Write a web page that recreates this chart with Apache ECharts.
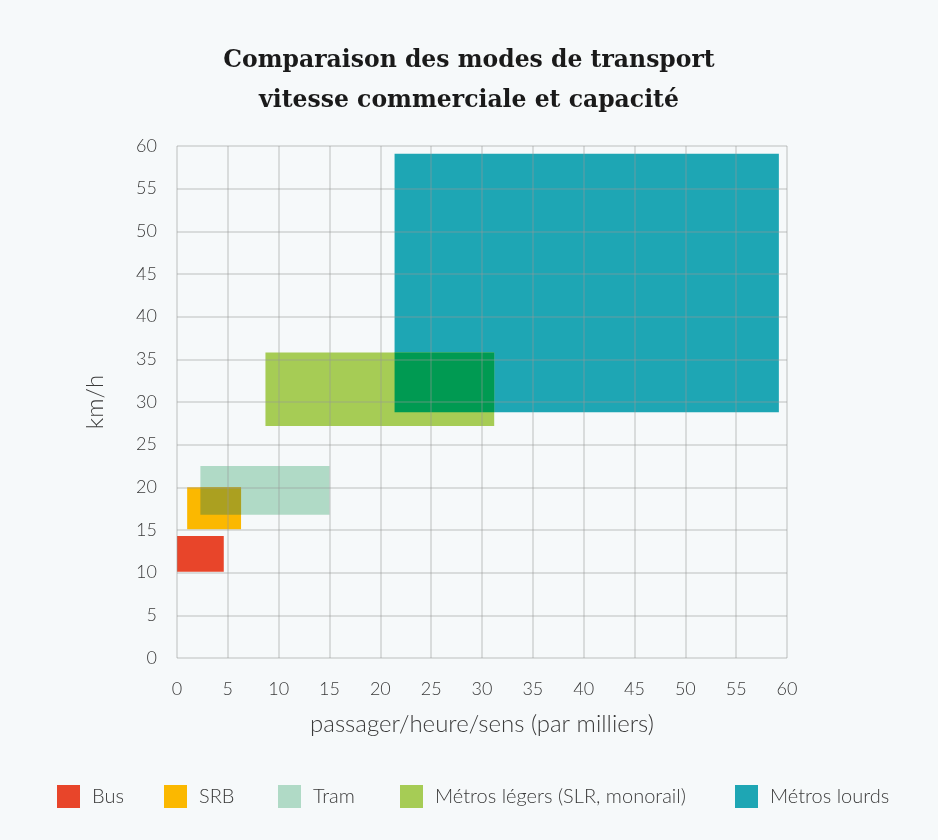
<!DOCTYPE html>
<html>
<head>
<meta charset="utf-8">
<title>Comparaison des modes de transport</title>
<script src="https://cdn.jsdelivr.net/npm/echarts@6/dist/echarts.min.js"></script>
<style>
  html, body { margin: 0; padding: 0; background: #f6f9fa; }
  #chart { width: 938px; height: 840px; }
</style>
</head>
<body>
<div id="chart"></div>
<script>
// Transport modes and their ranges: [capacity min, capacity max, speed min, speed max]
const modes = ['Bus', 'SRB', 'Tram', 'Métros légers (SLR, monorail)', 'Métros lourds'];
const capacityMin = [0, 1.0, 2.3, 8.7, 21.4];
const capacityMax = [4.6, 6.3, 15.0, 31.2, 59.2];
const speedMin = [10.1, 15.1, 16.8, 27.2, 28.8];
const speedMax = [14.3, 20.0, 22.5, 35.8, 59.1];
const colors = ['#e8452a', '#fbb800', '#b0dac6', '#a6cc55', '#1ea6b4'];

// Overlapping pairs get a darker shade where they intersect
const overlapPairs = [[1, 2], [3, 4]];
const overlapColors = ['#aba020', '#009a52'];

// Legend item positions
const legendLeft = [52, 159, 273, 395, 730];

// Draw order: back to front
const drawOrder = [4, 3, 2, 1, 0];

const textColor = '#3a3a3a';
const labelFont = 'Lato, "Open Sans", sans-serif';
const gridColor = 'rgba(150,150,150,0.4)';

function renderRect(params, api) {
  const p0 = api.coord([api.value(0), api.value(3)]);
  const p1 = api.coord([api.value(1), api.value(2)]);
  return {
    type: 'rect',
    shape: { x: p0[0], y: p0[1], width: p1[0] - p0[0], height: p1[1] - p0[1] },
    style: { fill: api.visual('color') }
  };
}

function intersect(a, b) {
  return [
    Math.max(capacityMin[a], capacityMin[b]),
    Math.min(capacityMax[a], capacityMax[b]),
    Math.max(speedMin[a], speedMin[b]),
    Math.min(speedMax[a], speedMax[b])
  ];
}

const series = drawOrder.map(i => ({
  type: 'custom',
  name: modes[i],
  renderItem: renderRect,
  itemStyle: { color: colors[i] },
  encode: { x: [0, 1], y: [2, 3] },
  data: [[capacityMin[i], capacityMax[i], speedMin[i], speedMax[i]]]
}));

overlapPairs.forEach((pair, k) => {
  series.push({
    type: 'custom',
    name: 'overlap-' + k,
    renderItem: renderRect,
    itemStyle: { color: overlapColors[k] },
    encode: { x: [0, 1], y: [2, 3] },
    data: [intersect(pair[0], pair[1])],
    z: 3
  });
});

const legends = modes.map((m, i) => ({
  data: [m],
  left: legendLeft[i],
  top: 780,
  icon: 'rect',
  itemWidth: 23,
  itemHeight: 23,
  textStyle: { fontFamily: labelFont, fontWeight: 300, fontSize: 20, color: textColor, padding: [0, 0, 0, 7] },
  selectedMode: false
}));

const chart = echarts.init(document.getElementById('chart'), null, { renderer: 'canvas' });
chart.setOption({
  backgroundColor: '#f6f9fa',
  animation: false,
  title: {
    text: 'Comparaison des modes de transport\nvitesse commerciale et capacité',
    left: 'center',
    top: 36,
    textStyle: {
      fontFamily: '"DejaVu Serif", serif',
      fontWeight: 'bold',
      fontSize: 23.5,
      lineHeight: 40,
      color: '#1a1a1a'
    }
  },
  legend: legends,
  grid: { left: 177, right: 151, top: 146, bottom: 182 },
  xAxis: {
    type: 'value',
    min: 0, max: 60, interval: 5,
    z: 5,
    name: 'passager/heure/sens (par milliers)',
    nameLocation: 'middle',
    nameGap: 54,
    nameTextStyle: { fontFamily: labelFont, fontWeight: 300, fontSize: 24, color: textColor },
    axisLine: { show: false },
    axisTick: { show: false },
    axisLabel: { margin: 22, fontFamily: labelFont, fontWeight: 300, fontSize: 18, color: textColor },
    splitLine: { show: true, lineStyle: { color: gridColor, width: 1.5 } }
  },
  yAxis: {
    type: 'value',
    min: 0, max: 60, interval: 5,
    z: 5,
    name: 'km/h',
    nameLocation: 'middle',
    nameGap: 70,
    nameTextStyle: { fontFamily: labelFont, fontWeight: 300, fontSize: 24, color: textColor },
    axisLine: { show: false },
    axisTick: { show: false },
    axisLabel: { margin: 20, fontFamily: labelFont, fontWeight: 300, fontSize: 18, color: textColor },
    splitLine: { show: true, lineStyle: { color: gridColor, width: 1.5 } }
  },
  series: series
});
</script>
</body>
</html>
